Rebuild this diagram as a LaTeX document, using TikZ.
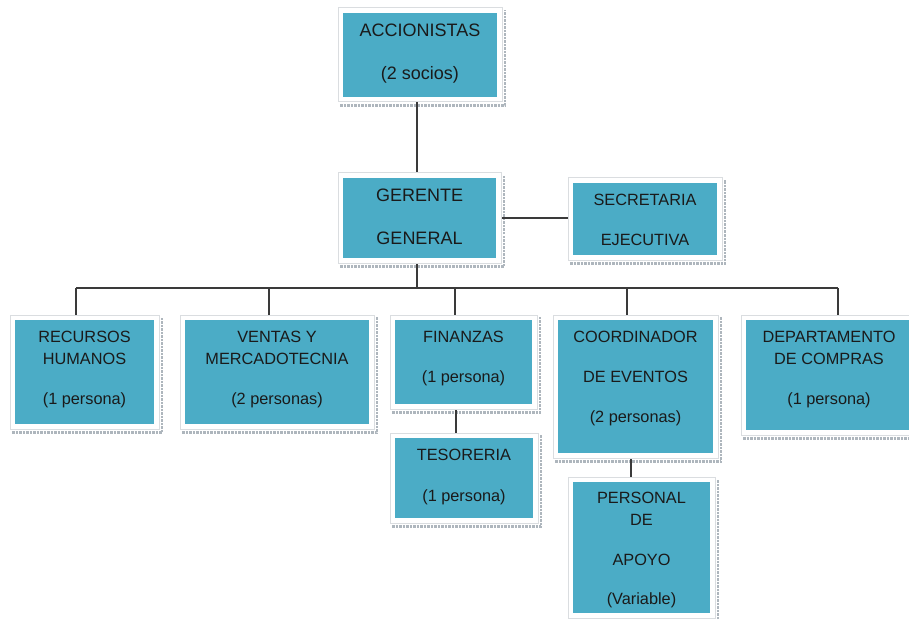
\documentclass[tikz,border=0pt]{standalone}
\usepackage{fontspec}
\setmainfont{Liberation Sans}
\usetikzlibrary{backgrounds}
\definecolor{boxblue}{HTML}{4BACC6}
\definecolor{framegray}{HTML}{DADDE0}
\definecolor{shadowgray}{HTML}{AEB6BD}
\definecolor{linegray}{HTML}{3A3A3A}
\definecolor{txtcol}{HTML}{1A1A1A}
\begin{document}
\begin{tikzpicture}[x=1pt,y=-1pt,
  orgbox/.style={fill=boxblue, inner sep=0pt, outer sep=0pt,
    preaction={draw=framegray, line width=11pt},
    preaction={draw=white, line width=9pt}},
  txtbase/.style={anchor=north, inner sep=0pt, align=center, text=txtcol},
  txt/.style={txtbase, font=\fontsize{16.3}{22}\selectfont, yshift=-11pt},
  bigtxt/.style={txtbase, font=\fontsize{18}{21}\selectfont, yshift=-10.5pt},
  conn/.style={draw=linegray, line width=1.3pt},
  shadowline/.style={draw=shadowgray, line width=2.2pt, dash pattern=on 2.5pt off 1pt}]
\useasboundingbox (0,0) rectangle (909,620);
% boxes
\node[orgbox, minimum width=154pt, minimum height=84pt] (acc) at (420,55) {};
\node[orgbox, minimum width=153pt, minimum height=80pt] (ger) at (419.5,218) {};
\node[orgbox, minimum width=144pt, minimum height=72pt] (sec) at (645,219) {};
\node[orgbox, minimum width=139pt, minimum height=104pt] (rh) at (84.5,372) {};
\node[orgbox, minimum width=184pt, minimum height=104pt] (ven) at (277,372) {};
\node[orgbox, minimum width=137pt, minimum height=84pt] (fin) at (463.5,362) {};
\node[orgbox, minimum width=155pt, minimum height=133pt] (coo) at (635.5,386.5) {};
\node[orgbox, minimum width=166pt, minimum height=110pt] (dep) at (829,375) {};
\node[orgbox, minimum width=138pt, minimum height=80pt] (tes) at (464,478) {};
\node[orgbox, minimum width=137pt, minimum height=131pt] (per) at (641.5,547.5) {};
% texts
\node[bigtxt] (tacc) at (acc.north) {ACCIONISTAS\\[22pt](2 socios)};
\node[bigtxt] (tger) at (ger.north) {GERENTE\\[22pt]GENERAL};
\node[txt] (tsec) at (sec.north) {SECRETARIA\\[18pt]EJECUTIVA};
\node[txt] (trh) at (rh.north) {RECURSOS\\HUMANOS\\[18pt](1 persona)};
\node[txt] (tven) at (ven.north) {VENTAS Y\\MERCADOTECNIA\\[18pt](2 personas)};
\node[txt] (tfin) at (fin.north) {FINANZAS\\[18pt](1 persona)};
\node[txt] (tcoo) at (coo.north) {COORDINADOR\\[18pt]DE EVENTOS\\[18pt](2 personas)};
\node[txt] (tdep) at (dep.north) {DEPARTAMENTO\\DE COMPRAS\\[18pt](1 persona)};
\node[txt] (ttes) at (tes.north) {TESORERIA\\[19pt](1 persona)};
\node[txt, yshift=1.5pt] (tper) at (per.north) {PERSONAL\\DE\\[18pt]APOYO\\[17pt](Variable)};
% bus coordinates
\coordinate (b1) at (76,288);
\coordinate (b2) at (269,288);
\coordinate (b3) at (455,288);
\coordinate (b4) at (627,288);
\coordinate (b5) at (838,288);
\coordinate (bg) at (417,288);
\begin{scope}[on background layer]
  \foreach \n in {acc,ger,sec,rh,ven,fin,coo,dep,tes,per}{
    \draw[shadowline] ([xshift=-3pt,yshift=-8.5pt]\n.south west) -| ([xshift=8pt,yshift=3pt]\n.north east);
  }
  \draw[conn] ([xshift=-3pt]acc.south) -- ([xshift=-3pt]acc.south |- ger.north);
  \draw[conn] (ger.east) -- (ger.east -| sec.west);
  \draw[conn] (bg |- ger.south) -- (bg);
  \draw[conn] (b1) -- (b5);
  \draw[conn] (b1) -- (b1 |- rh.north);
  \draw[conn] (b2) -- (b2 |- ven.north);
  \draw[conn] (b3) -- (b3 |- fin.north);
  \draw[conn] (b4) -- (b4 |- coo.north);
  \draw[conn] (b5) -- (b5 |- dep.north);
  \draw[conn] ([xshift=-7.5pt]fin.south) -- ([xshift=-7.5pt]fin.south |- tes.north);
  \draw[conn] ([xshift=-4.5pt]coo.south) -- ([xshift=-4.5pt]coo.south |- per.north);
\end{scope}
\end{tikzpicture}
\end{document}
